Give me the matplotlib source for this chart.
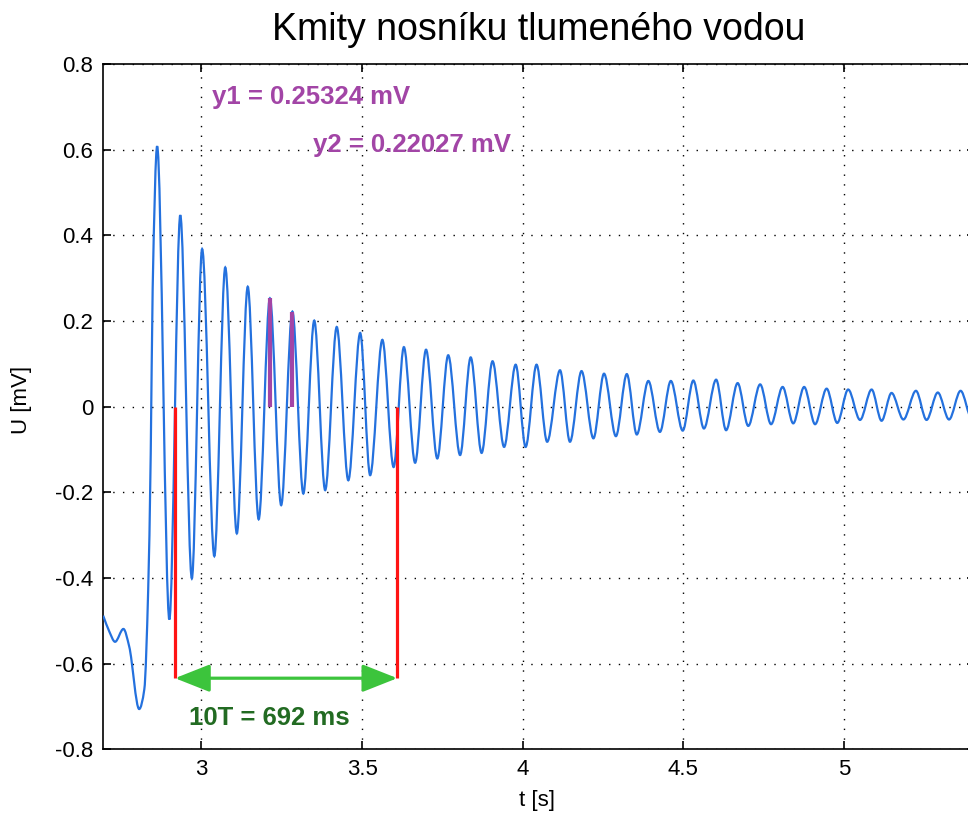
import numpy as np
import matplotlib
matplotlib.use("Agg")
import matplotlib.pyplot as plt
from matplotlib.path import Path
from matplotlib.patches import PathPatch

plt.rcParams['font.family'] = ['Liberation Sans', 'DejaVu Sans']

# Measured beam response: local extrema (plus a few points on the steep first rise)
t_pts = [2.694, 2.713, 2.731, 2.757, 2.775, 2.806, 2.822, 2.834, 2.842, 2.848,
         2.862, 2.900, 2.934, 2.970, 3.002, 3.040, 3.074, 3.110, 3.144, 3.178,
         3.213, 3.248, 3.283, 3.317, 3.351, 3.385, 3.421, 3.457, 3.494, 3.525,
         3.563, 3.598, 3.630, 3.665, 3.699, 3.734, 3.768, 3.805, 3.838, 3.872,
         3.906, 3.942, 3.978, 4.009, 4.043, 4.076, 4.116, 4.147, 4.183, 4.220,
         4.253, 4.290, 4.324, 4.355, 4.391, 4.427, 4.461, 4.498, 4.531, 4.564,
         4.602, 4.633, 4.669, 4.702, 4.739, 4.773, 4.809, 4.842, 4.876, 4.910,
         4.946, 4.979, 5.013, 5.050, 5.086, 5.117, 5.148, 5.185, 5.224, 5.257,
         5.292, 5.327, 5.363, 5.398, 5.432]
u_pts = [-0.488, -0.525, -0.549, -0.519, -0.560, -0.706, -0.660, -0.430, -0.109, 0.275,
         0.608, -0.497, 0.447, -0.401, 0.368, -0.349, 0.325, -0.296, 0.280, -0.263,
         0.253, -0.230, 0.222, -0.203, 0.201, -0.195, 0.186, -0.172, 0.172, -0.160,
         0.156, -0.141, 0.139, -0.131, 0.133, -0.121, 0.120, -0.113, 0.115, -0.108,
         0.106, -0.094, 0.098, -0.094, 0.098, -0.082, 0.085, -0.082, 0.083, -0.074,
         0.077, -0.069, 0.076, -0.065, 0.060, -0.059, 0.060, -0.056, 0.061, -0.051,
         0.063, -0.055, 0.055, -0.045, 0.052, -0.041, 0.046, -0.039, 0.046, -0.041,
         0.042, -0.038, 0.040, -0.031, 0.040, -0.033, 0.032, -0.030, 0.037, -0.031,
         0.033, -0.030, 0.037, -0.028, 0.034]

# Period measurement (10 periods between two rising zero crossings)
t_start = 2.9175
ten_T = 0.692
arrow_u = -0.634

# Amplitudes of two successive peaks
t_y1, y1 = 3.2134, 0.25324
t_y2, y2 = 3.283, 0.22027

x_ticks = [3, 3.5, 4, 4.5, 5]
x_tick_labels = ['3', '3.5', '4', '4.5', '5']
y_ticks = [-0.8, -0.6, -0.4, -0.2, 0, 0.2, 0.4, 0.6, 0.8]
y_tick_labels = ['-0.8', '-0.6', '-0.4', '-0.2', '0', '0.2', '0.4', '0.6', '0.8']

BLUE = '#2471de'
RED = '#ff1414'
PURPLE = '#a245a6'
GREEN = '#3cc43c'
DARK_GREEN = '#226b22'


def smooth_path(x, y):
    """Monotone cubic (PCHIP-style) curve through the points as Bezier segments."""
    x = np.asarray(x, float)
    y = np.asarray(y, float)
    h = np.diff(x)
    d = np.diff(y) / h
    m = np.zeros_like(x)
    m[0] = d[0]
    for k in range(1, len(x) - 1):
        if d[k - 1] * d[k] > 0:
            w1 = 2 * h[k] + h[k - 1]
            w2 = h[k] + 2 * h[k - 1]
            m[k] = (w1 + w2) / (w1 / d[k - 1] + w2 / d[k])
    verts = [(x[0], y[0])]
    codes = [Path.MOVETO]
    for k in range(len(x) - 1):
        dx = h[k] / 3.0
        verts += [(x[k] + dx, y[k] + m[k] * dx),
                  (x[k + 1] - dx, y[k + 1] - m[k + 1] * dx),
                  (x[k + 1], y[k + 1])]
        codes += [Path.CURVE4] * 3
    return Path(verts, codes)


fig = plt.figure(figsize=(9.68, 8.23), dpi=100)
ax = fig.add_axes([0.1064, 0.08955, 0.90083, 0.83269])

ax.add_patch(PathPatch(smooth_path(t_pts, u_pts), fill=False,
                       edgecolor=BLUE, lw=1.6, zorder=3))

# 10T marker lines and double arrow
t_end = t_start + ten_T
for tx in (t_start, t_end):
    ax.plot([tx, tx], [0, arrow_u], color=RED, lw=2.3, zorder=4,
            solid_capstyle='butt')
ax.annotate('', xy=(t_end, arrow_u), xytext=(t_start, arrow_u),
            arrowprops=dict(arrowstyle='<|-|>,head_length=0.43,head_width=0.17',
                            mutation_scale=50, color=GREEN, lw=2.3,
                            shrinkA=0, shrinkB=0), zorder=5)
ax.text(2.962, -0.7275, '10T = 692 ms', color=DARK_GREEN, fontsize=18.5,
        fontweight='bold', ha='left', va='center', zorder=6)

# Peak amplitude markers
ax.plot([t_y1, t_y1], [0, y1], color=PURPLE, lw=3.0, zorder=4, solid_capstyle='butt')
ax.plot([t_y2, t_y2], [0, y2], color=PURPLE, lw=3.0, zorder=4, solid_capstyle='butt')
ax.text(3.033, 0.722, 'y1 = %.5f mV' % y1, color=PURPLE, fontsize=18.5,
        fontweight='bold', ha='left', va='center', zorder=6)
ax.text(3.346, 0.611, 'y2 = %.5f mV' % y2, color=PURPLE, fontsize=18.5,
        fontweight='bold', ha='left', va='center', zorder=6)

ax.set_xlim(2.6934, 5.4078)
ax.set_ylim(-0.8, 0.8)
ax.set_xticks(x_ticks)
ax.set_xticklabels(x_tick_labels)
ax.set_yticks(y_ticks)
ax.set_yticklabels(y_tick_labels)

ax.grid(True, color='black', linestyle=(0, (1, 6)), linewidth=1.0)
ax.set_axisbelow(True)
ax.tick_params(direction='in', length=6, width=1.2, top=True, right=True,
               labelsize=16, pad=7, colors='black')
for sp in ax.spines.values():
    sp.set_linewidth(1.2)
    sp.set_color('black')

ax.set_title('Kmity nosníku tlumeného vodou', fontsize=27, y=1.0496, pad=0,
             va='center')
ax.set_xlabel('t [s]', fontsize=16)
ax.set_ylabel('U [mV]', fontsize=16)
ax.xaxis.set_label_coords(0.498, -0.074)
ax.xaxis.label.set_va('center')
ax.yaxis.set_label_coords(-0.093, 0.51)
ax.yaxis.label.set_va('center')

fig.savefig('out.png', dpi=100)
